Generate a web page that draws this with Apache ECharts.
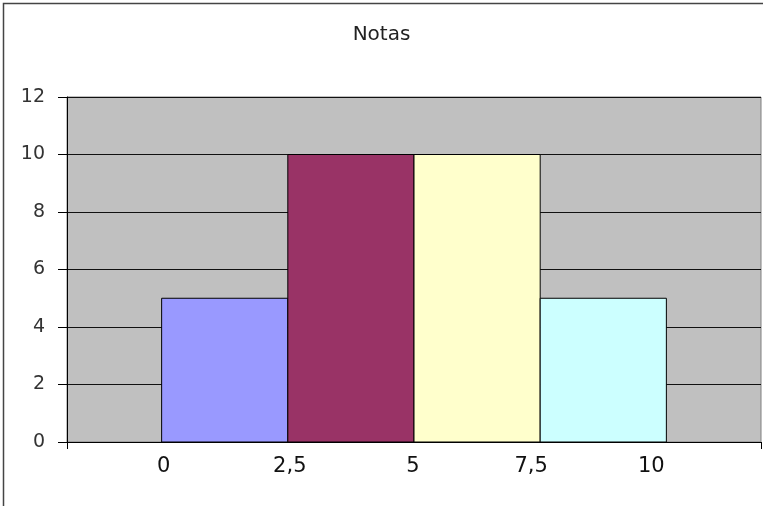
<!DOCTYPE html>
<html>
<head>
<meta charset="utf-8">
<script src="https://cdn.jsdelivr.net/npm/echarts@6/dist/echarts.min.js"></script>
<style>html,body{margin:0;padding:0;background:#fff}#c{width:763px;height:506px}</style>
</head>
<body>
<div id="c"></div>
<script>
const title = 'Notas';
const binEdges = [0, 2.5, 5, 7.5, 10];
const counts = [5, 10, 10, 5];
const yTicks = [0, 2, 4, 6, 8, 10, 12];
const barColors = ['#9999FF', '#993366', '#FFFFCC', '#CCFFFF'];

const xMin = -1.875, xMax = 11.875;
// small horizontal nudges of the x labels (px), as in the original rendering
const labelNudge = [2, 2, -1, -9, -15];
const rich = {};
labelNudge.forEach((d, i) => {
  rich['l' + i] = {
    fontFamily: "'DejaVu Sans', sans-serif", fontSize: 21, color: '#111',
    padding: d >= 0 ? [0, 0, 0, 2 * d] : [0, -2 * d, 0, 0]
  };
});
const chart = echarts.init(document.getElementById('c'));
const font = "'DejaVu Sans', sans-serif";
chart.setOption({
  animation: false,
  backgroundColor: '#fff',
  title: {
    text: title, left: 'center', top: 20,
    textStyle: { fontFamily: font, fontSize: 20, fontWeight: 'normal', color: '#222' }
  },
  graphic: [{
    type: 'rect', shape: { x: 3.5, y: 3.5, width: 900, height: 700 },
    style: { fill: 'none', stroke: '#444', lineWidth: 1.5 }, silent: true
  }],
  grid: {
    left: 67, right: 2, top: 97, bottom: 64,
    show: true, backgroundColor: '#C0C0C0', borderColor: '#808080', borderWidth: 1
  },
  xAxis: {
    type: 'value', min: xMin, max: xMax,
    axisLine: { show: true, onZero: false, lineStyle: { color: '#000', width: 1 } },
    axisTick: { show: true, customValues: [xMin, xMax], length: 7, lineStyle: { color: '#000' } },
    axisLabel: {
      customValues: binEdges, margin: 14,
      fontFamily: font, fontSize: 21, color: '#111',
      formatter: function (v) {
        const i = binEdges.indexOf(v);
        const s = String(v).replace('.', ',');
        return i >= 0 ? '{l' + i + '|' + s + '}' : s;
      },
      rich: rich
    },
    splitLine: { show: false }
  },
  yAxis: {
    type: 'value', min: yTicks[0], max: yTicks[yTicks.length - 1], interval: 2,
    axisLine: { show: true, onZero: false, lineStyle: { color: '#000', width: 1 } },
    axisTick: { show: true, length: 9, lineStyle: { color: '#000' } },
    axisLabel: { margin: 22, fontFamily: font, fontSize: 19, color: '#333' },
    splitLine: { show: true, lineStyle: { color: '#111', width: 1 } }
  },
  series: [{
    type: 'custom',
    data: counts.map((c, i) => [binEdges[i], binEdges[i + 1], c, i]),
    encode: { x: [0, 1], y: 2 },
    renderItem: function (params, api) {
      const p0 = api.coord([api.value(0), 0]);
      const p1 = api.coord([api.value(1), api.value(2)]);
      return {
        type: 'rect',
        shape: { x: p0[0], y: p1[1], width: p1[0] - p0[0], height: p0[1] - p1[1] },
        style: { fill: barColors[api.value(3)], stroke: '#000', lineWidth: 1 }
      };
    }
  }]
});
</script>
</body>
</html>
